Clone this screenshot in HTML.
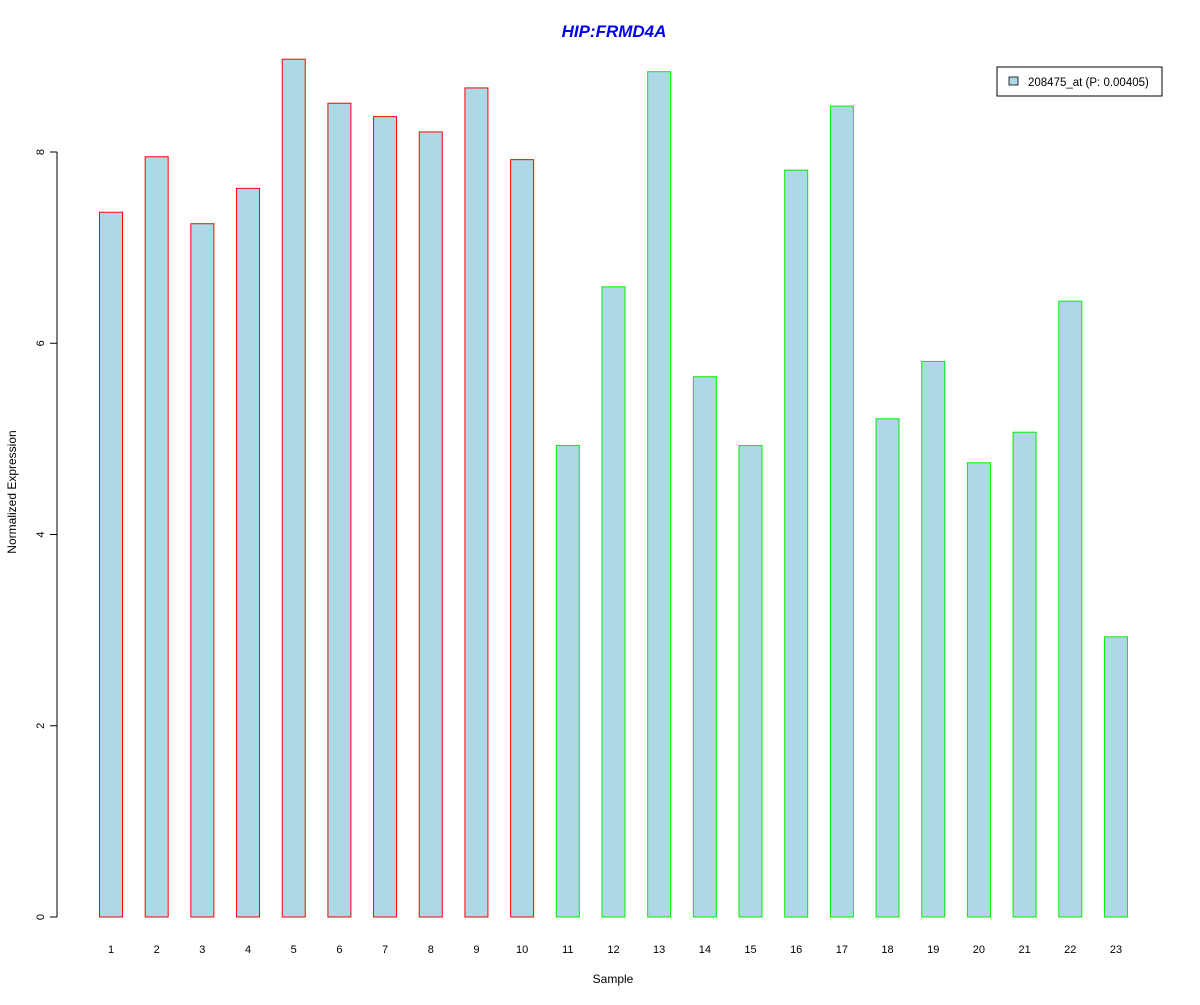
<!DOCTYPE html>
<html><head><meta charset="utf-8"><style>
body{margin:0;background:#fff;}
svg text{font-family:"Liberation Sans",Arial,sans-serif;}
</style></head><body>
<svg id="chart" width="1200" height="1000" xmlns="http://www.w3.org/2000/svg">
<rect width="1200" height="1000" fill="#fff"/>
<text x="614" y="37" text-anchor="middle" font-size="17" font-weight="bold" font-style="italic" fill="#0000ee">HIP:FRMD4A</text>
<g id="bars"></g>
<g id="yaxis"></g>
<g id="xlabels"></g>
<text x="613" y="983" text-anchor="middle" font-size="12">Sample</text>
<text transform="translate(16,492) rotate(-90)" text-anchor="middle" font-size="12">Normalized Expression</text>
<g>
<rect x="997" y="67" width="165" height="29" fill="#fff" stroke="#000"/>
<rect x="1009" y="77" width="9" height="8" fill="#add8e6" stroke="#000" stroke-width="0.8"/>
<text x="1028" y="86" font-size="11.5">208475_at (P: 0.00405)</text>
</g>
</svg>
<script>
const categories = ["1","2","3","4","5","6","7","8","9","10","11","12","13","14","15","16","17","18","19","20","21","22","23"];
const values = [7.37,7.95,7.25,7.62,8.97,8.51,8.37,8.21,8.67,7.92,4.93,6.59,8.84,5.65,4.93,7.81,8.48,5.21,5.81,4.75,5.07,6.44,2.93];
const groups = ["a","a","a","a","a","a","a","a","a","a","b","b","b","b","b","b","b","b","b","b","b","b","b"];
const yTicks = [0,2,4,6,8];
const NS="http://www.w3.org/2000/svg";
function yScale(v){return 917-v*95.625;}
function xScale(i){return 111+i*45.68;}
const bars=document.getElementById('bars');
values.forEach((v,i)=>{
  const r=document.createElementNS(NS,'rect');
  
  
  const x=xScale(i)-11.5;
  r.setAttribute('x',x);r.setAttribute('y',yScale(v));
  r.setAttribute('width',23);r.setAttribute('height',yScale(0)-yScale(v));
  r.setAttribute('fill','#add8e6');
  r.setAttribute('stroke',groups[i]==='a'?'#ff0000':'#00ee00');
  bars.appendChild(r);
});
const xl=document.getElementById('xlabels');
categories.forEach((c,i)=>{
  const t=document.createElementNS(NS,'text');
  
  
  t.setAttribute('x',xScale(i));t.setAttribute('y',953);
  t.setAttribute('text-anchor','middle');t.setAttribute('font-size','11');
  t.textContent=c;xl.appendChild(t);
});
const ya=document.getElementById('yaxis');
const ax=document.createElementNS(NS,'line');


ax.setAttribute('x1',57);ax.setAttribute('x2',57);
ax.setAttribute('y1',yScale(yTicks[yTicks.length-1]));ax.setAttribute('y2',yScale(yTicks[0]));
ax.setAttribute('stroke','#000');ya.appendChild(ax);
yTicks.forEach(v=>{
  const l=document.createElementNS(NS,'line');
  
  
  l.setAttribute('x1',50);l.setAttribute('x2',57);
  l.setAttribute('y1',yScale(v));l.setAttribute('y2',yScale(v));
  l.setAttribute('stroke','#000');ya.appendChild(l);
  const t=document.createElementNS(NS,'text');
  
  
  t.setAttribute('transform','translate(44,'+yScale(v)+') rotate(-90)');
  t.setAttribute('text-anchor','middle');t.setAttribute('font-size','11');
  t.textContent=v;ya.appendChild(t);
});
</script>
</body></html>
